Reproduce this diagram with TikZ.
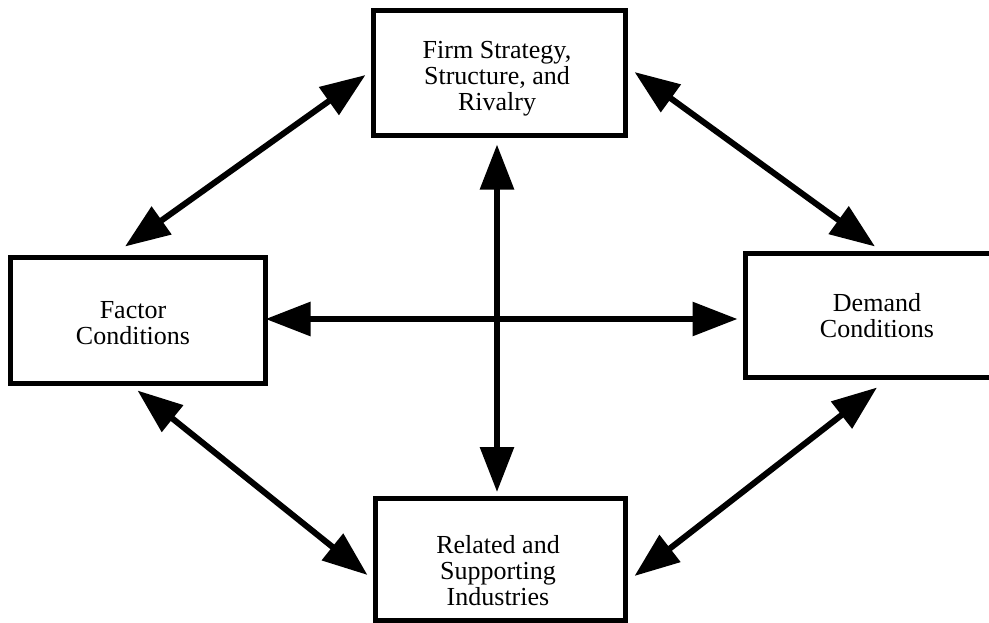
\documentclass[tikz,border=0pt]{standalone}
\usepackage{fontspec}
\setmainfont{Liberation Serif}
\usetikzlibrary{arrows.meta}
\begin{document}
\begin{tikzpicture}[x=1pt,y=-1pt,
  box/.style={draw=black,line width=5pt,rectangle,inner sep=0pt},
  lbl/.style={align=center,inner sep=0pt,font=\fontsize{26}{26}\selectfont},
  arr/.style={line width=6pt,{Triangle[length=45pt,width=33pt]}-{Triangle[length=45pt,width=33pt]}}]
\useasboundingbox[fill=white] (0,0) rectangle (989,622);
% boxes
\node[box,minimum width=252pt,minimum height=125pt] (top) at (499,72.5) {};
\node[box,minimum width=255pt,minimum height=126pt] (left) at (137.5,320) {};
\node[box,minimum width=264pt,minimum height=124pt] (right) at (877,315) {};
\node[box,minimum width=250pt,minimum height=122pt] (bottom) at (500,559.5) {};
% labels
\node[lbl] (toptxt) at (497,79) {Firm Strategy,\\Structure, and\\Rivalry};
\node[lbl] (lefttxt) at (133,323) {Factor\\Conditions};
\node[lbl] (righttxt) at (877,316) {Demand\\Conditions};
\node[lbl] (bottxt) at (498,571) {Related and\\Supporting\\Industries};
% connectors
\draw[arr] ([shift={(-5,2.5)}]top.west) -- ([shift={(-12.5,-8)}]left.north);
\draw[arr] ([shift={(7,-0.5)}]top.east) -- ([shift={(-2,-4)}]right.north);
\draw[arr] ([shift={(-2,-1)}]left.east) -- ([shift={(-5,4)}]right.west);
\draw[arr] ([shift={(-2,7)}]top.south) -- ([shift={(-3,-4)}]bottom.north);
\draw[arr] ([shift={(0,5)}]left.south) -- ([shift={(-5,15.5)}]bottom.west);
\draw[arr] ([shift={(0,8)}]right.south) -- ([shift={(7,16.5)}]bottom.east);
\end{tikzpicture}
\end{document}
